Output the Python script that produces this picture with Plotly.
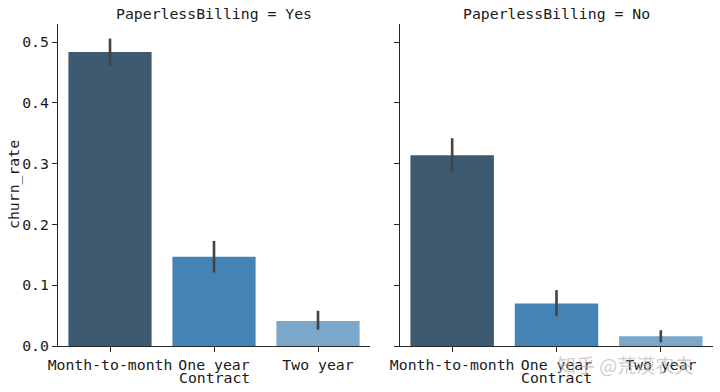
import plotly.graph_objects as go
from plotly.subplots import make_subplots

categories = ["Month-to-month", "One year", "Two year"]
yes_rate = [0.484, 0.147, 0.041]
yes_lo = [0.462, 0.121, 0.027]
yes_hi = [0.506, 0.173, 0.058]
no_rate = [0.314, 0.070, 0.016]
no_lo = [0.287, 0.049, 0.006]
no_hi = [0.342, 0.092, 0.026]
bar_colors = ["#3d5a71", "#4683b5", "#7aa7ca"]
y_ticks = [0.0, 0.1, 0.2, 0.3, 0.4, 0.5]
panel_titles = ["PaperlessBilling = Yes", "PaperlessBilling = No"]
x_title = "Contract"
y_title = "churn_rate"

MONO = "DejaVu Sans Mono, monospace"
INK = "#1a1a1a"
FS = 14.8

W, H = 720, 392
ml, mr, mt, mb = 58, 7, 24, 46
pw = W - ml - mr
ph = H - mt - mb


def px_x(px):
    return (px - ml) / pw


def px_y(py):
    return (H - mb - py) / ph


fig = make_subplots(rows=1, cols=2, shared_yaxes=True, horizontal_spacing=0.0)

for col, (rate, lo, hi) in enumerate([(yes_rate, yes_lo, yes_hi), (no_rate, no_lo, no_hi)], start=1):
    fig.add_trace(go.Bar(
        x=categories, y=rate, width=0.8,
        marker=dict(color=bar_colors, line=dict(width=0)),
        error_y=dict(type="data", symmetric=False,
                     array=[h - r for h, r in zip(hi, rate)],
                     arrayminus=[r - l for r, l in zip(rate, lo)],
                     color="#424242", thickness=2.6, width=0),
        showlegend=False,
    ), row=1, col=col)

fig.update_layout(
    width=W, height=H,
    margin=dict(l=ml, r=mr, t=mt, b=mb),
    plot_bgcolor="white", paper_bgcolor="white",
    font=dict(family=MONO, size=FS, color=INK),
)
x1_end = px_x(370)
x2_start = px_x(400)
fig.update_xaxes(domain=[0, x1_end], row=1, col=1)
fig.update_xaxes(domain=[x2_start, 1], row=1, col=2)

axis_common = dict(showline=True, linecolor="#262626", linewidth=1.2, ticks="outside",
                   ticklen=5, tickcolor="#262626", tickwidth=1.1, showgrid=False,
                   zeroline=False, mirror=False)
for c in (1, 2):
    fig.update_xaxes(range=[-0.5, 2.5], tickfont=dict(family=MONO, size=FS, color=INK),
                     ticklabelstandoff=0, **axis_common, row=1, col=c)
    fig.update_yaxes(range=[0, 0.53], tickvals=y_ticks, **axis_common, row=1, col=c)

fig.update_yaxes(ticktext=[f"{v:.1f}" for v in y_ticks],
                 tickfont=dict(family=MONO, size=14.8, color=INK),
                 row=1, col=1)
fig.update_yaxes(showticklabels=False, row=1, col=2)

centers = [(0 + x1_end) / 2, (x2_start + 1) / 2]
for cx, t in zip(centers, panel_titles):
    fig.add_annotation(x=cx, y=px_y(13), xref="paper", yref="paper", text=t, showarrow=False,
                       xanchor="center", yanchor="middle",
                       font=dict(family=MONO, size=FS, color=INK))
    fig.add_annotation(x=cx, y=px_y(377), xref="paper", yref="paper", text=x_title,
                       showarrow=False, xanchor="center", yanchor="middle",
                       font=dict(family=MONO, size=FS, color=INK))

fig.add_annotation(x=px_x(14), y=px_y(185), xref="paper", yref="paper", text=y_title,
                   showarrow=False, textangle=-90, xanchor="center", yanchor="middle",
                   font=dict(family=MONO, size=FS, color=INK))

fig.add_annotation(x=px_x(625), y=px_y(364), xref="paper", yref="paper", text="知乎 @荒漠农夫",
                   showarrow=False, xanchor="center", yanchor="middle",
                   font=dict(family="Noto Sans CJK SC", size=19, color="rgba(185,185,185,0.7)"))

fig.write_html("out.html", config={"displayModeBar": False},
               post_script="document.body.style.margin='0';")
